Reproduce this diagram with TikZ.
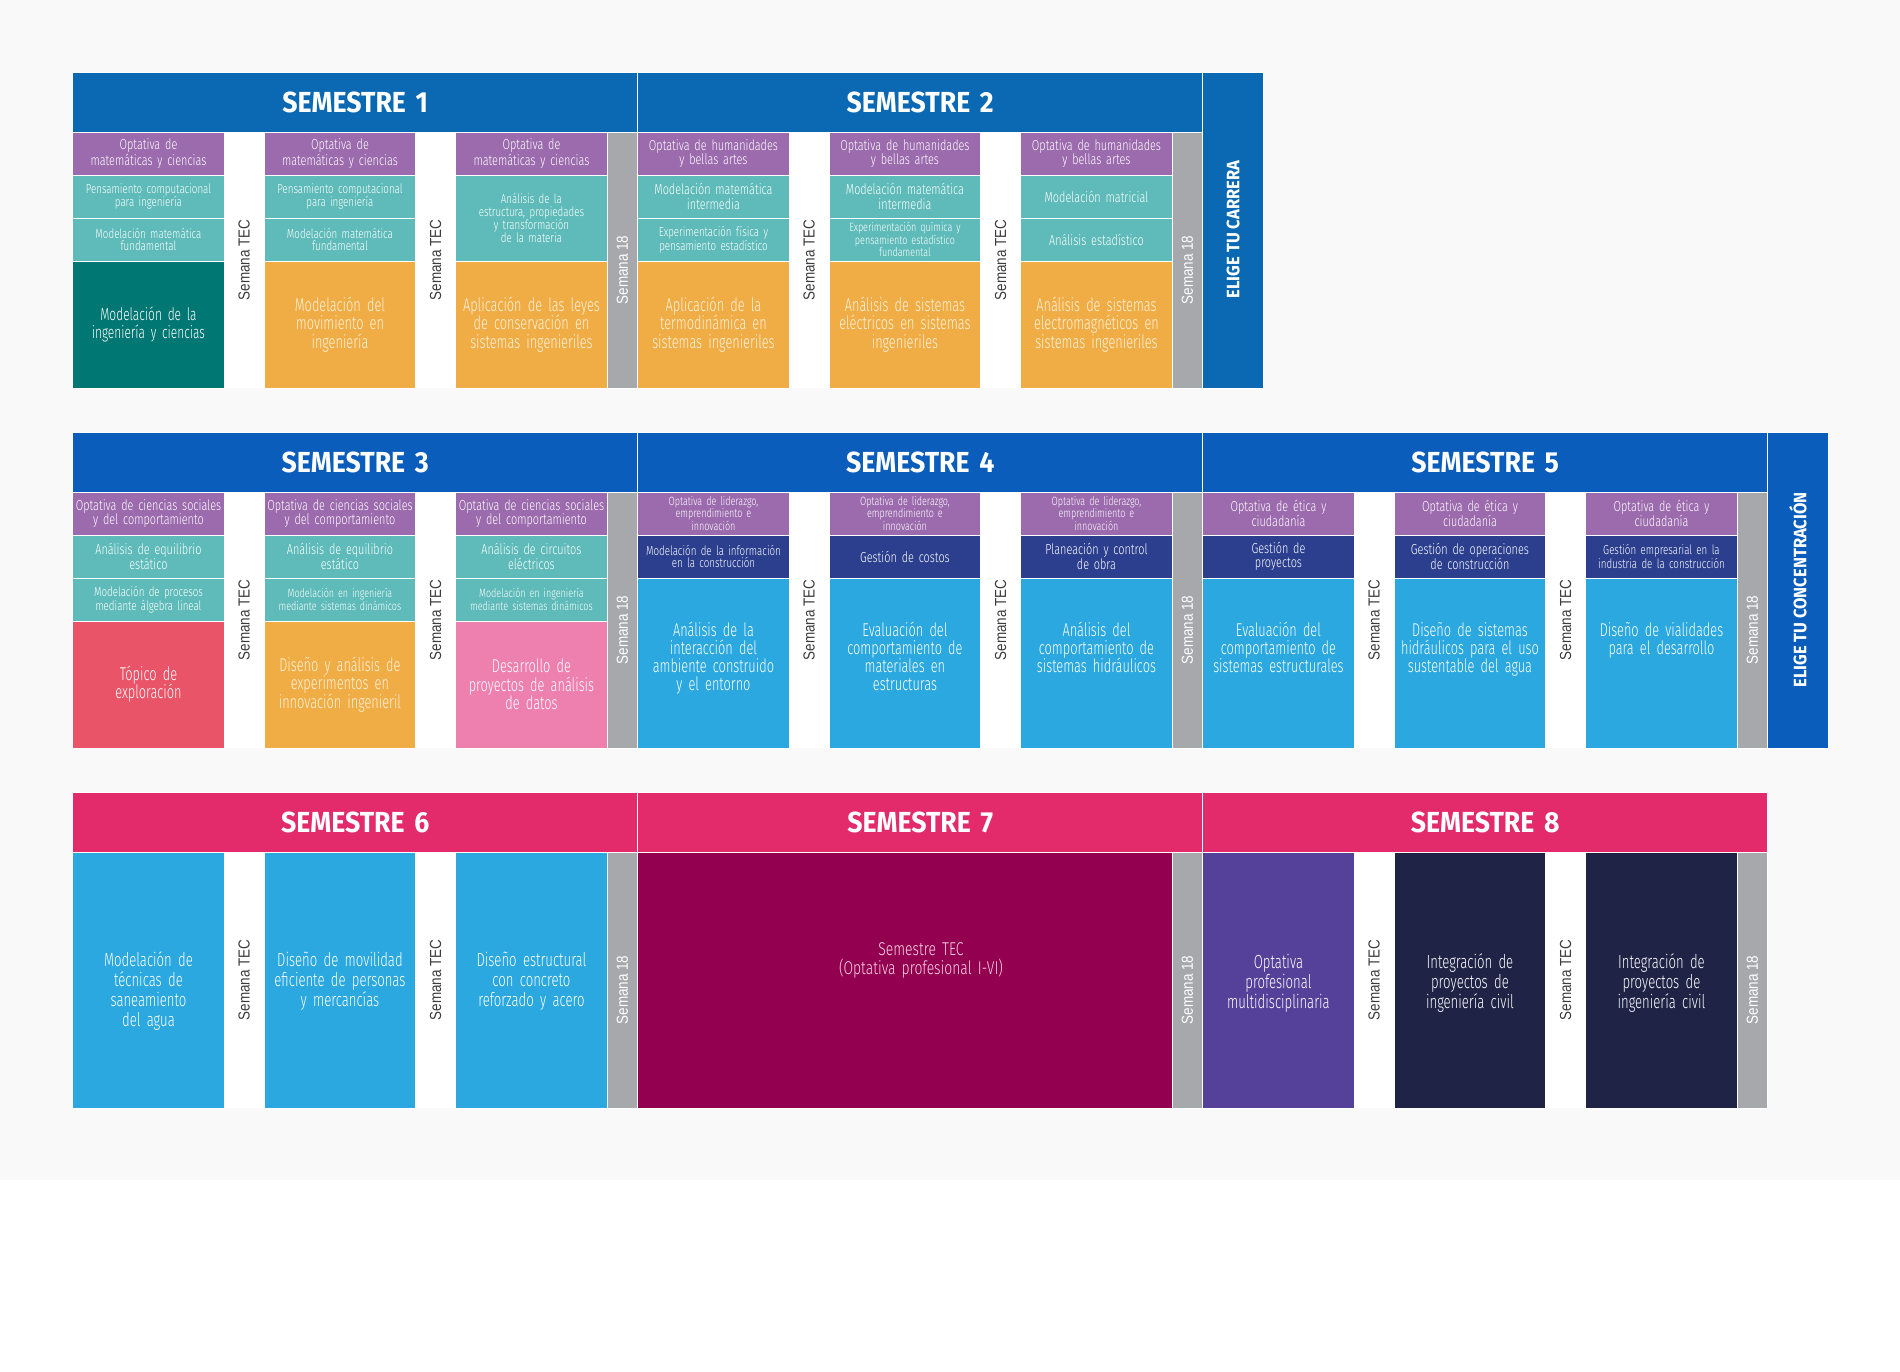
\documentclass[tikz,border=0pt]{standalone}
\usepackage{fontspec}
\setmainfont{Fira Sans Light}[FakeStretch=0.75]
\newfontfamily\bigfont{Fira Sans Light}[FakeStretch=0.69]
\newfontfamily\hdfont{Fira Sans}[FakeStretch=0.92]
\newfontfamily\semfont{Liberation Sans}[FakeStretch=0.84]
\hyphenpenalty=10000
\exhyphenpenalty=10000
\definecolor{bgc}{HTML}{F9F9F9}
\definecolor{hdA}{HTML}{0B69B4}
\definecolor{hdB}{HTML}{0A5DBA}
\definecolor{hdP}{HTML}{E32A6A}
\definecolor{cPur}{HTML}{9B6BAD}
\definecolor{cTeal}{HTML}{5EBBB9}
\definecolor{cDTeal}{HTML}{007773}
\definecolor{cOr}{HTML}{F0AD45}
\definecolor{cGr}{HTML}{A7A8AB}
\definecolor{cRed}{HTML}{E95468}
\definecolor{cPink}{HTML}{EE80B0}
\definecolor{cNavy}{HTML}{2B3F8E}
\definecolor{cLB}{HTML}{2AA8DF}
\definecolor{cMar}{HTML}{940050}
\definecolor{cVio}{HTML}{55419A}
\definecolor{cDN}{HTML}{1F2447}
\definecolor{cCream}{HTML}{FFF3DF}
\definecolor{cTxt}{HTML}{3C3C3C}
\definecolor{cPinkTxt}{HTML}{F8D6E8}
\newcommand\cell[7]{\pgfmathsetmacro\cwid{#4-2}\node[cellbase,#6,minimum width=#4pt,minimum height=#5pt,text width=\cwid pt] (#1) at ({#2+#4/2},{#3+#5/2}) {#7};}
\tikzset{
  cellbase/.style={rectangle,inner sep=0pt,outer sep=0pt,draw=white,line width=0.8pt,align=center,text=white},
  hdr/.style={font=\hdfont\bfseries\fontsize{29}{29}\selectfont},
  sm/.style={font=\fontsize{14.5}{14.3}\selectfont},
  xs/.style={font=\fontsize{13}{12.5}\selectfont},
  xxs/.style={font=\fontsize{12}{11.5}\selectfont},
  pur/.style={fill=cPur,sm},
  tl/.style={fill=cTeal,sm},
  nvy/.style={fill=cNavy,sm},
  big/.style={font=\bigfont\fontsize{18.5}{18.3}\selectfont},
  big3/.style={font=\bigfont\fontsize{19}{20}\selectfont},
  org/.style={fill=cOr,big,text=cCream},
  lbl/.style={fill=cLB},
  sxviii/.style={fill=cGr},
  tec/.style={rotate=90,text=cTxt,font=\semfont\fontsize{16}{16}\selectfont,inner sep=0pt},
  sxt/.style={rotate=90,text=white,font=\semfont\fontsize{16}{16}\selectfont,inner sep=0pt},
  elig/.style={rotate=90,text=white,font=\hdfont\bfseries\fontsize{18}{18}\selectfont,inner sep=0pt},
  mtxt/.style={inner sep=0pt,align=center,text=white,text width=148pt}
}
\begin{document}
\begin{tikzpicture}[x=1pt,y=-1pt]
\fill[white] (0,0) rectangle (1900,1372);
\fill[bgc] (0,0) rectangle (1900,1180);
\useasboundingbox (0,0) rectangle (1900,1372);
\fill[white] (72.7,132) rectangle (1202.7,388);
\fill[white] (72.7,492) rectangle (1767.7,748);
\fill[white] (72.7,852) rectangle (1767.7,1108);
% ===== Row 1 =====
\cell{h1}{72.7}{72}{565}{60}{hdr,fill=hdA}{SEMESTRE 1}
\cell{h2}{637.7}{72}{565}{60}{hdr,fill=hdA}{SEMESTRE 2}
\cell{e1}{1202.7}{72}{60.5}{316}{fill=hdA}{}
\node[elig] (e1t) at (1233,229.5) {ELIGE TU CARRERA};
% S1
\cell{a11}{72.7}{132}{151.5}{43}{pur}{Optativa de\\matemáticas y ciencias}
\cell{a12}{72.7}{175}{151.5}{43}{tl,xs}{Pensamiento computacional\\para ingeniería}
\cell{a13}{72.7}{218}{151.5}{43}{tl,xs}{Modelación matemática\\fundamental}
\cell{a14}{72.7}{261}{151.5}{127}{fill=cDTeal,font=\bigfont\fontsize{17.3}{17.8}\selectfont}{Modelación de la\\ingeniería y ciencias}
\cell{a21}{264.2}{132}{151.5}{43}{pur}{Optativa de\\matemáticas y ciencias}
\cell{a22}{264.2}{175}{151.5}{43}{tl,xs}{Pensamiento computacional\\para ingeniería}
\cell{a23}{264.2}{218}{151.5}{43}{tl,xs}{Modelación matemática\\fundamental}
\cell{a24}{264.2}{261}{151.5}{127}{org}{Modelación del\\movimiento en\\ingeniería}
\cell{a31}{455.7}{132}{151.5}{43}{pur}{Optativa de\\matemáticas y ciencias}
\cell{a32}{455.7}{175}{151.5}{86}{tl,xs}{Análisis de la\\estructura, propiedades\\y transformación\\de la materia}
\cell{a34}{455.7}{261}{151.5}{127}{org}{Aplicación de las leyes\\de conservación en\\sistemas ingenieriles}
\cell{a3s}{607.2}{132}{30.5}{256}{sxviii}{}
\node[tec] (ta1) at (244.2,260) {Semana TEC};
\node[tec] (ta2) at (435.7,260) {Semana TEC};
\node[sxt] (sa) at (622.45,270) {Semana 18};
% S2
\cell{b11}{637.7}{132}{151.5}{43}{pur}{Optativa de humanidades\\y bellas artes}
\cell{b12}{637.7}{175}{151.5}{43}{tl}{Modelación matemática\\intermedia}
\cell{b13}{637.7}{218}{151.5}{43}{tl,xs}{Experimentación física y\\pensamiento estadístico}
\cell{b14}{637.7}{261}{151.5}{127}{org}{Aplicación de la\\termodinámica en\\sistemas ingenieriles}
\cell{b21}{829.2}{132}{151.5}{43}{pur}{Optativa de humanidades\\y bellas artes}
\cell{b22}{829.2}{175}{151.5}{43}{tl}{Modelación matemática\\intermedia}
\cell{b23}{829.2}{218}{151.5}{43}{tl,xxs}{Experimentación química y\\pensamiento estadístico\\fundamental}
\cell{b24}{829.2}{261}{151.5}{127}{org}{Análisis de sistemas\\eléctricos en sistemas\\ingenieriles}
\cell{b31}{1020.7}{132}{151.5}{43}{pur}{Optativa de humanidades\\y bellas artes}
\cell{b32}{1020.7}{175}{151.5}{43}{tl}{Modelación matricial}
\cell{b33}{1020.7}{218}{151.5}{43}{tl}{Análisis estadístico}
\cell{b34}{1020.7}{261}{151.5}{127}{org}{Análisis de sistemas\\electromagnéticos en\\sistemas ingenieriles}
\cell{b3s}{1172.2}{132}{30.5}{256}{sxviii}{}
\node[tec] (tb1) at (809.2,260) {Semana TEC};
\node[tec] (tb2) at (1000.7,260) {Semana TEC};
\node[sxt] (sb) at (1187.45,270) {Semana 18};
% ===== Row 2 =====
\cell{h3}{72.7}{432}{565}{60}{hdr,fill=hdB}{SEMESTRE 3}
\cell{h4}{637.7}{432}{565}{60}{hdr,fill=hdB}{SEMESTRE 4}
\cell{h5}{1202.7}{432}{565}{60}{hdr,fill=hdB}{SEMESTRE 5}
\cell{e2}{1767.7}{432}{60.5}{316}{fill=hdB}{}
\node[elig] (e2t) at (1798,590) {ELIGE TU CONCENTRACIÓN};
% S3
\cell{c11}{72.7}{492}{151.5}{43}{pur}{Optativa de ciencias sociales\\y del comportamiento}
\cell{c12}{72.7}{535}{151.5}{43}{tl}{Análisis de equilibrio\\estático}
\cell{c13}{72.7}{578}{151.5}{43}{tl,xs}{Modelación de procesos\\mediante álgebra lineal}
\cell{c14}{72.7}{621}{151.5}{127}{big,fill=cRed}{Tópico de\\exploración}
\cell{c21}{264.2}{492}{151.5}{43}{pur}{Optativa de ciencias sociales\\y del comportamiento}
\cell{c22}{264.2}{535}{151.5}{43}{tl}{Análisis de equilibrio\\estático}
\cell{c23}{264.2}{578}{151.5}{43}{tl,xxs}{Modelación en ingeniería\\mediante sistemas dinámicos}
\cell{c24}{264.2}{621}{151.5}{127}{org}{Diseño y análisis de\\experimentos en\\innovación ingenieril}
\cell{c31}{455.7}{492}{151.5}{43}{pur}{Optativa de ciencias sociales\\y del comportamiento}
\cell{c32}{455.7}{535}{151.5}{43}{tl}{Análisis de circuitos\\eléctricos}
\cell{c33}{455.7}{578}{151.5}{43}{tl,xxs}{Modelación en ingeniería\\mediante sistemas dinámicos}
\cell{c34}{455.7}{621}{151.5}{127}{big,fill=cPink}{Desarrollo de\\proyectos de análisis\\de datos}
\cell{c3s}{607.2}{492}{30.5}{256}{sxviii}{}
\node[tec] (tc1) at (244.2,620) {Semana TEC};
\node[tec] (tc2) at (435.7,620) {Semana TEC};
\node[sxt] (sc) at (622.45,630) {Semana 18};
% S4
\cell{d11}{637.7}{492}{151.5}{43}{pur,xxs}{Optativa de liderazgo,\\emprendimiento e\\innovación}
\cell{d12}{637.7}{535}{151.5}{43}{nvy,xs}{Modelación de la información\\en la construcción}
\cell{d14}{637.7}{578}{151.5}{170}{lbl}{}
\cell{d21}{829.2}{492}{151.5}{43}{pur,xxs}{Optativa de liderazgo,\\emprendimiento e\\innovación}
\cell{d22}{829.2}{535}{151.5}{43}{nvy}{Gestión de costos}
\cell{d24}{829.2}{578}{151.5}{170}{lbl}{}
\cell{d31}{1020.7}{492}{151.5}{43}{pur,xxs}{Optativa de liderazgo,\\emprendimiento e\\innovación}
\cell{d32}{1020.7}{535}{151.5}{43}{nvy}{Planeación y control\\de obra}
\cell{d34}{1020.7}{578}{151.5}{170}{lbl}{}
\cell{d3s}{1172.2}{492}{30.5}{256}{sxviii}{}
\node[mtxt,big,anchor=base] (d14t) at (713.45,636) {Análisis de la\\interacción del\\ambiente construido\\y el entorno};
\node[mtxt,big,anchor=base] (d24t) at (904.95,636) {Evaluación del\\comportamiento de\\materiales en\\estructuras};
\node[mtxt,big,anchor=base] (d34t) at (1096.45,636) {Análisis del\\comportamiento de\\sistemas hidráulicos};
\node[tec] (td1) at (809.2,620) {Semana TEC};
\node[tec] (td2) at (1000.7,620) {Semana TEC};
\node[sxt] (sd) at (1187.45,630) {Semana 18};
% S5
\cell{f11}{1202.7}{492}{151.5}{43}{pur}{Optativa de ética y\\ciudadanía}
\cell{f12}{1202.7}{535}{151.5}{43}{nvy}{Gestión de\\proyectos}
\cell{f14}{1202.7}{578}{151.5}{170}{lbl}{}
\cell{f21}{1394.2}{492}{151.5}{43}{pur}{Optativa de ética y\\ciudadanía}
\cell{f22}{1394.2}{535}{151.5}{43}{nvy}{Gestión de operaciones\\de construcción}
\cell{f24}{1394.2}{578}{151.5}{170}{lbl}{}
\cell{f31}{1585.7}{492}{151.5}{43}{pur}{Optativa de ética y\\ciudadanía}
\cell{f32}{1585.7}{535}{151.5}{43}{nvy,xs}{Gestión empresarial en la\\industria de la construcción}
\cell{f34}{1585.7}{578}{151.5}{170}{lbl}{}
\cell{f3s}{1737.2}{492}{30.5}{256}{sxviii}{}
\node[mtxt,big,anchor=base] (f14t) at (1278.45,636) {Evaluación del\\comportamiento de\\sistemas estructurales};
\node[mtxt,big,anchor=base] (f24t) at (1469.95,636) {Diseño de sistemas\\hidráulicos para el uso\\sustentable del agua};
\node[mtxt,big,anchor=base] (f34t) at (1661.45,636) {Diseño de vialidades\\para el desarrollo};
\node[tec] (tf1) at (1374.2,620) {Semana TEC};
\node[tec] (tf2) at (1565.7,620) {Semana TEC};
\node[sxt] (sf) at (1752.45,630) {Semana 18};
% ===== Row 3 =====
\cell{h6}{72.7}{792}{565}{60}{hdr,fill=hdP}{SEMESTRE 6}
\cell{h7}{637.7}{792}{565}{60}{hdr,fill=hdP}{SEMESTRE 7}
\cell{h8}{1202.7}{792}{565}{60}{hdr,fill=hdP}{SEMESTRE 8}
% S6
\cell{g1}{72.7}{852}{151.5}{256}{lbl}{}
\cell{g2}{264.2}{852}{151.5}{256}{lbl}{}
\cell{g3}{455.7}{852}{151.5}{256}{lbl}{}
\cell{g3s}{607.2}{852}{30.5}{256}{sxviii}{}
\node[mtxt,big3,anchor=base] (g1t) at (148.45,966) {Modelación de\\técnicas de\\saneamiento\\del agua};
\node[mtxt,big3,anchor=base] (g2t) at (339.95,966) {Diseño de movilidad\\eficiente de personas\\y mercancías};
\node[mtxt,big3,anchor=base] (g3t) at (531.45,966) {Diseño estructural\\con concreto\\reforzado y acero};
\node[tec] (tg1) at (244.2,980) {Semana TEC};
\node[tec] (tg2) at (435.7,980) {Semana TEC};
\node[sxt] (sg) at (622.45,990) {Semana 18};
% S7
\cell{k1}{637.7}{852}{534.5}{256}{fill=cMar}{}
\cell{k1s}{1172.2}{852}{30.5}{256}{sxviii}{}
\node[inner sep=0pt,align=center,text width=300pt,text=cPinkTxt,font=\fontsize{18.5}{19.5}\selectfont,anchor=base] (k1t) at (921,955) {Semestre TEC\\(Optativa profesional I-VI)};
\node[sxt] (sk) at (1187.45,990) {Semana 18};
% S8
\cell{m1}{1202.7}{852}{151.5}{256}{fill=cVio}{}
\cell{m2}{1394.2}{852}{151.5}{256}{fill=cDN}{}
\cell{m3}{1585.7}{852}{151.5}{256}{fill=cDN}{}
\cell{m3s}{1737.2}{852}{30.5}{256}{sxviii}{}
\node[mtxt,big3,anchor=base] (m1t) at (1278.45,968) {Optativa\\profesional\\multidisciplinaria};
\node[mtxt,big3,anchor=base] (m2t) at (1469.95,968) {Integración de\\proyectos de\\ingeniería civil};
\node[mtxt,big3,anchor=base] (m3t) at (1661.45,968) {Integración de\\proyectos de\\ingeniería civil};
\node[tec] (tm1) at (1374.2,980) {Semana TEC};
\node[tec] (tm2) at (1565.7,980) {Semana TEC};
\node[sxt] (sm) at (1752.45,990) {Semana 18};
\end{tikzpicture}
\end{document}
